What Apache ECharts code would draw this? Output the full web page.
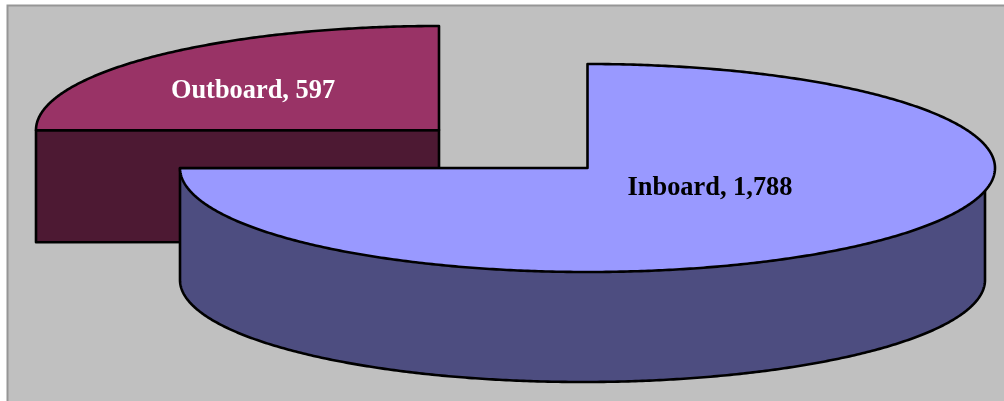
<!DOCTYPE html>
<html>
<head>
<meta charset="utf-8">
<style>html,body{margin:0;padding:0;background:#fff}#c{width:1004px;height:401px}</style>
<script src="https://cdn.jsdelivr.net/npm/echarts@6/dist/echarts.min.js"></script>
</head>
<body>
<div id="c"></div>
<script>
const categories = ['Outboard', 'Inboard'];
const values = [597, 1788];

const total = values.reduce((a, b) => a + b, 0);
const startAngle = 360 - values[0] / total * 360;

const looks = [
  { cx: 439, cy: 130, rx: 403, ry: 104, top: '#993366', side: '#4D1933',
    base: { dx: 0, dy: 112, rx: 403, ry: 104 }, labelColor: '#fff', lx: 253, ly: 91 },
  { cx: 587.5, cy: 168, rx: 407.5, ry: 104, top: '#9999FF', side: '#4D4D80',
    base: { dx: -5, dy: 112, rx: 402.5, ry: 102 }, labelColor: '#000', lx: 710, ly: 188 }
];

function pt(c, r1, r2, deg) {
  const a = deg * Math.PI / 180;
  return [c[0] + r1 * Math.sin(a), c[1] - r2 * Math.cos(a)];
}
function arc(c, r1, r2, from, to) {
  const pts = [];
  const n = Math.max(2, Math.ceil(Math.abs(to - from) / 0.5));
  for (let i = 0; i <= n; i++) pts.push(pt(c, r1, r2, from + (to - from) * i / n));
  return pts;
}

function renderItem(params, api) {
  const i = params.dataIndex;
  const s = looks[i];
  const span = api.value(0) / total * 360;
  const from = i === 0 ? startAngle : 0;
  const to = from + span;
  const centre = [s.cx, s.cy];
  const baseC = [s.cx + s.base.dx, s.cy + s.base.dy];
  const line = { stroke: '#000', lineWidth: 2.6, lineJoin: 'round' };
  const children = [];

  // side wall
  let wall;
  const frontFrom = Math.max(from, 90), frontTo = Math.min(to, 270);
  if (frontTo - frontFrom > 1) {
    const bottom = arc(baseC, s.base.rx, s.base.ry, frontFrom, frontTo);
    const first = bottom[0], last = bottom[bottom.length - 1];
    wall = [[first[0], s.cy]].concat(bottom, [[last[0], s.cy]]);
  } else {
    // cut face seen from the front
    const p = pt(centre, s.rx, s.ry, from);
    wall = [p, centre, [s.cx, s.cy + s.base.dy], [p[0], p[1] + s.base.dy]];
  }
  children.push({ type: 'polygon', shape: { points: wall }, style: Object.assign({ fill: s.side }, line) });

  // top face
  const topPts = [centre].concat(arc(centre, s.rx, s.ry, from, to));
  children.push({ type: 'polygon', shape: { points: topPts }, style: Object.assign({ fill: s.top }, line) });

  // label
  children.push({
    type: 'text', z2: 100,
    style: {
      text: categories[i] + ', ' + api.value(0).toLocaleString('en-US'),
      x: s.lx, y: s.ly, align: 'center', verticalAlign: 'middle',
      fill: s.labelColor, font: 'bold 26.4px "Liberation Serif", serif'
    }
  });
  return { type: 'group', children };
}

const chart = echarts.init(document.getElementById('c'), null, { renderer: 'canvas' });
chart.setOption({
  animation: false,
  backgroundColor: '#ffffff',
  graphic: [{
    type: 'rect', z: -10, silent: true,
    shape: { x: 7.5, y: 5.5, width: 1010, height: 410 },
    style: { fill: '#C0C0C0', stroke: '#969696', lineWidth: 2 }
  }],
  series: [{
    type: 'custom',
    coordinateSystem: 'none',
    renderItem,
    silent: true,
    data: values.map((v, i) => ({ name: categories[i], value: [v] }))
  }]
});
</script>
</body>
</html>
